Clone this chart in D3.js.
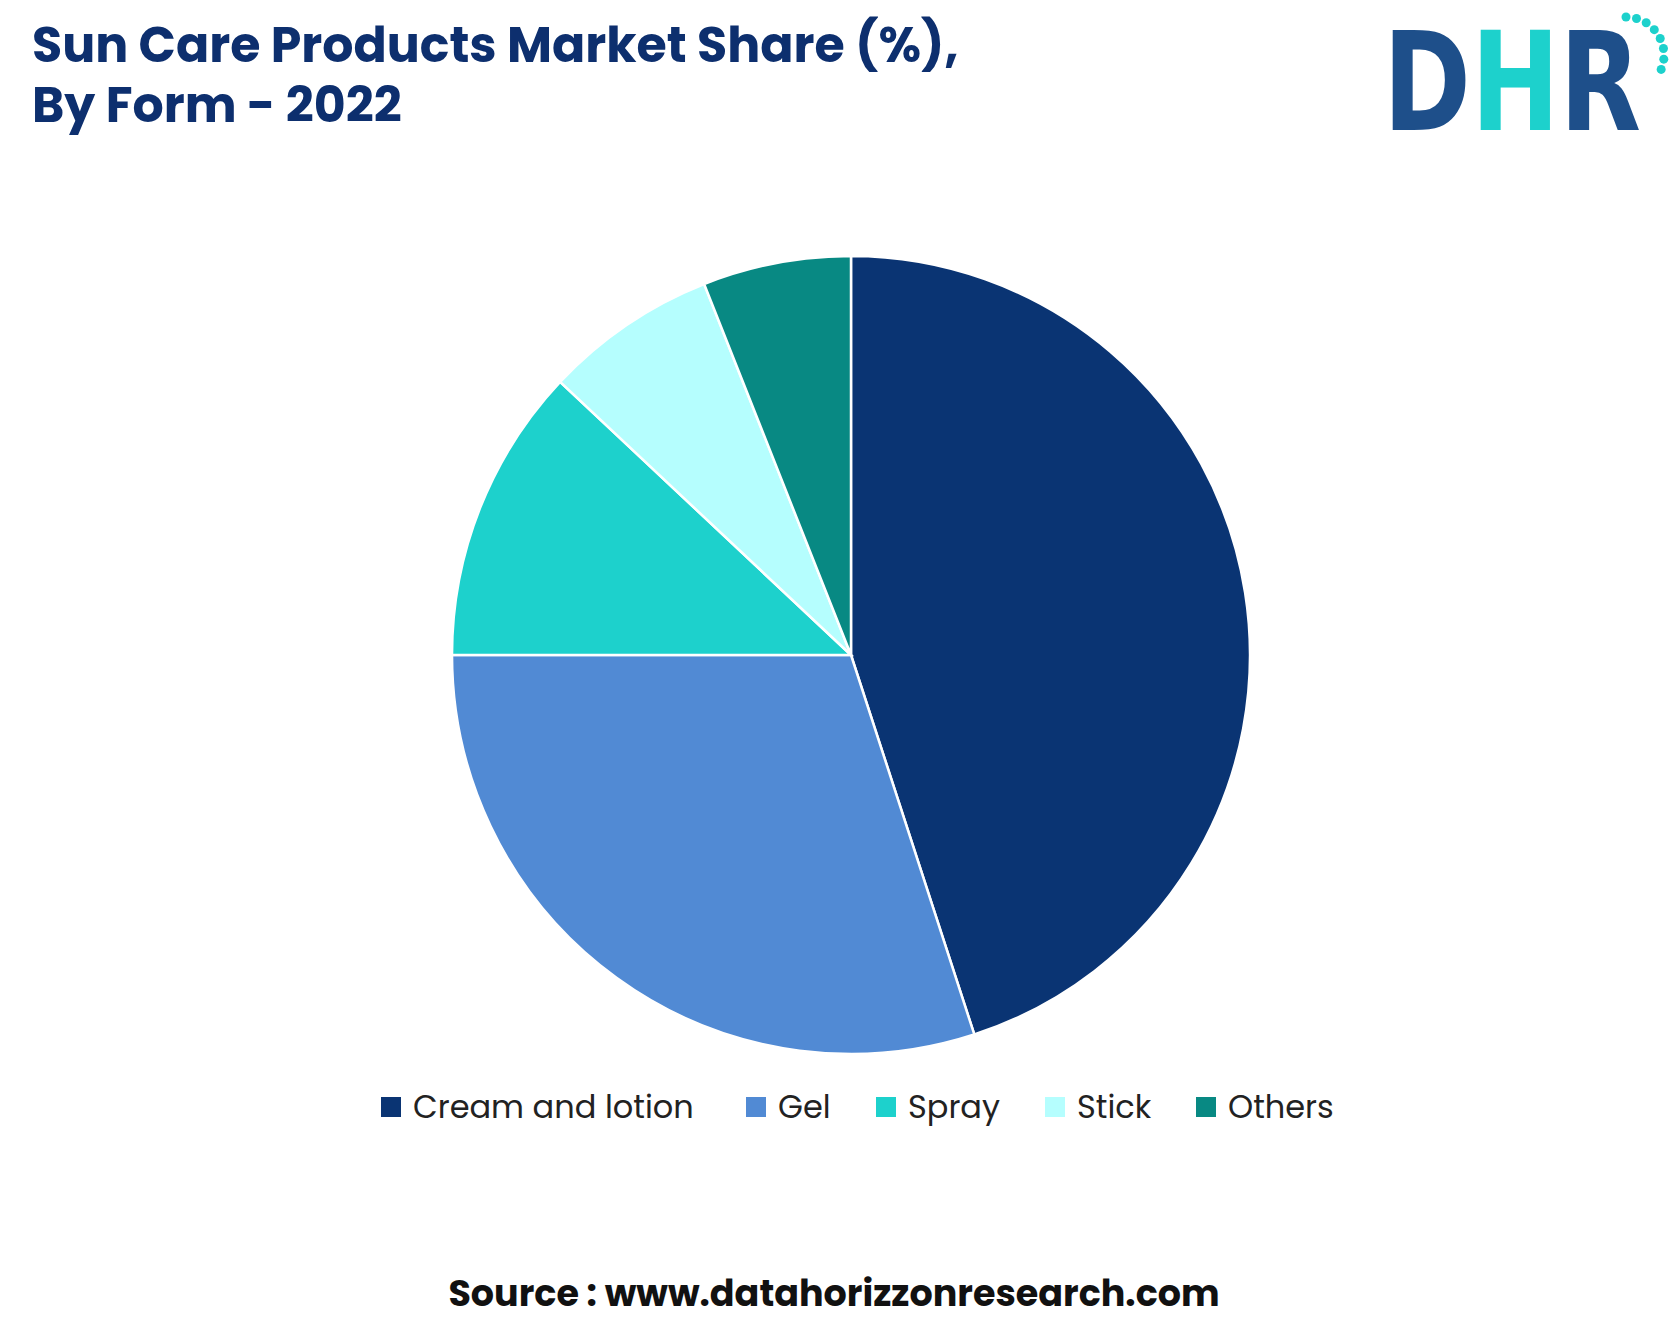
<!DOCTYPE html>
<html><head><meta charset="utf-8">
<script src="https://cdn.jsdelivr.net/npm/d3@7"></script>
<style>body{margin:0;background:#fff}svg{display:block}</style>
</head><body>
<script>
var categories = ["Cream and lotion", "Gel", "Spray", "Stick", "Others"];
var values = [45, 30, 12, 7, 6];
var colors = ["#0a3473", "#518ad4", "#1dd1cc", "#b5fefe", "#088983"];

var width = 1677, height = 1338,
  cx = 851, cy = 655, radius = 399;

var svg = d3.select("body").append("svg")
  .attr("width", width).attr("height", height);

var font = "Poppins, 'Open Sans', sans-serif";

svg.append("text").attr("x", 32).attr("y", 62)
  .style("font", "bold 49px " + font).style("fill", "#0d2f6e")
  .text("Sun Care Products Market Share (%),");
svg.append("text").attr("x", 32).attr("y", 122)
  .style("font", "bold 49px " + font).style("fill", "#0d2f6e")
  .text("By Form - 2022");

// logo
var logo = svg.append("g");
logo.append("text").attr("x", 1383).attr("y", 130)
  .attr("textLength", 258).attr("lengthAdjust", "spacingAndGlyphs")
  .style("font", "900 138px 'DejaVu Sans', sans-serif")
  .selectAll("tspan").data([["D", "#1e4f8a"], ["H", "#1dd1cc"], ["R", "#1e4f8a"]])
  .enter().append("tspan").style("fill", d => d[1]).text(d => d[0]);
d3.range(8).forEach(function(i) {
  var a = -Math.PI / 2 + i * 0.28;
  logo.append("circle")
    .attr("cx", 1626 + 38 * Math.cos(a)).attr("cy", 55 + 38 * Math.sin(a))
    .attr("r", 4.5).style("fill", "#1dd1cc");
});

var pie = d3.pie().sort(null).value(d => d);
var arc = d3.arc().innerRadius(0).outerRadius(radius);

svg.append("g").attr("transform", "translate(" + cx + "," + cy + ")")
  .selectAll("path").data(pie(values)).enter().append("path")
  .attr("d", arc).style("fill", (d, i) => colors[i])
  .style("stroke", "#fff").style("stroke-width", 2.5);

// legend
var legX = [381, 746, 876, 1045, 1196];
var leg = svg.append("g");
categories.forEach(function(c, i) {
  leg.append("rect").attr("x", legX[i]).attr("y", 1097).attr("width", 20).attr("height", 20)
    .style("fill", colors[i]);
  leg.append("text").attr("x", legX[i] + 32).attr("y", 1118)
    .style("font", "32px " + font).style("fill", "#222").text(c);
});

svg.append("text").attr("x", 834).attr("y", 1306).attr("text-anchor", "middle")
  .style("font", "bold 36.5px " + font).style("fill", "#111")
  .text("Source : www.datahorizzonresearch.com");
</script>
</body></html>
